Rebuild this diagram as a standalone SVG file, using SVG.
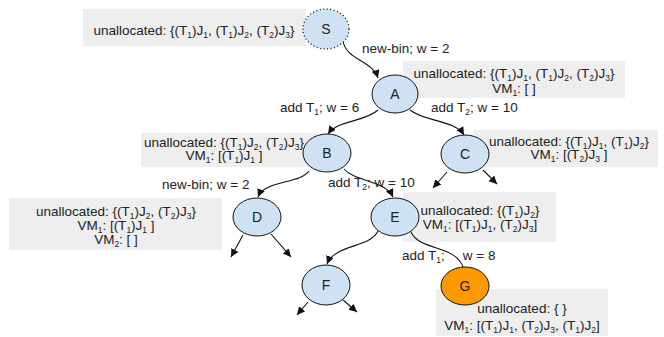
<svg xmlns="http://www.w3.org/2000/svg" width="664" height="337" viewBox="0 0 664 337">
  <style>
    text { font-family: "Liberation Sans", Arial, sans-serif; font-size: 13.5px; fill: #222; }
    .mid { text-anchor: middle; }
    .s { baseline-shift: -3px; font-size: 8.5px; }
    .box { fill: #eeeeee; stroke: none; }
    .node { fill: #cfe2f3; stroke: #111; stroke-width: 1; }
    .goal { fill: #ff9900; stroke: #111; stroke-width: 1; }
    .start { fill: #cfe2f3; stroke: #111; stroke-width: 1.3; stroke-dasharray: 1 2.5; }
    .nl { font-size: 14px; text-anchor: middle; }
    .edge { fill: none; stroke: #111; stroke-width: 1.1; }
  </style>
  <defs>
    <marker id="arr" markerUnits="userSpaceOnUse" markerWidth="10" markerHeight="10" refX="8" refY="4" orient="auto">
      <path d="M0,0 L8,4 L0,8 Z" fill="#111"/>
    </marker>
  </defs>

  <rect width="664" height="337" fill="#ffffff"/>

  <!-- state annotation boxes -->
  <g id="labels">
    <rect class="box" x="83" y="9" width="223" height="37"/>
    <text class="mid" x="194" y="35">unallocated: {(T<tspan class="s">1</tspan>)J<tspan class="s">1</tspan>, (T<tspan class="s">1</tspan>)J<tspan class="s">2</tspan>, (T<tspan class="s">2</tspan>)J<tspan class="s">3</tspan>}</text>

    <rect class="box" x="403" y="61" width="222" height="37"/>
    <text class="mid" x="514" y="78">unallocated: {(T<tspan class="s">1</tspan>)J<tspan class="s">1</tspan>, (T<tspan class="s">1</tspan>)J<tspan class="s">2</tspan>, (T<tspan class="s">2</tspan>)J<tspan class="s">3</tspan>}</text>
    <text class="mid" x="514" y="93">VM<tspan class="s">1</tspan>: [ ]</text>

    <rect class="box" x="141" y="133" width="176" height="34"/>
    <text class="mid" x="224" y="147">unallocated: {(T<tspan class="s">1</tspan>)J<tspan class="s">2</tspan>, (T<tspan class="s">2</tspan>)J<tspan class="s">3</tspan>}</text>
    <text class="mid" x="224" y="160">VM<tspan class="s">1</tspan>: [(T<tspan class="s">1</tspan>)J<tspan class="s">1</tspan> ]</text>

    <rect class="box" x="474" y="130" width="184" height="37"/>
    <text class="mid" x="569" y="146">unallocated: {(T<tspan class="s">1</tspan>)J<tspan class="s">1</tspan>, (T<tspan class="s">1</tspan>)J<tspan class="s">2</tspan>}</text>
    <text class="mid" x="569" y="159">VM<tspan class="s">1</tspan>: [(T<tspan class="s">2</tspan>)J<tspan class="s">3</tspan> ]</text>

    <rect class="box" x="9" y="198" width="213" height="52"/>
    <text class="mid" x="116" y="216">unallocated: {(T<tspan class="s">1</tspan>)J<tspan class="s">2</tspan>, (T<tspan class="s">2</tspan>)J<tspan class="s">3</tspan>}</text>
    <text class="mid" x="116" y="230">VM<tspan class="s">1</tspan>: [(T<tspan class="s">1</tspan>)J<tspan class="s">1</tspan> ]</text>
    <text class="mid" x="116" y="244">VM<tspan class="s">2</tspan>: [ ]</text>

    <rect class="box" x="403" y="192" width="153" height="50"/>
    <text class="mid" x="480" y="215">unallocated: {(T<tspan class="s">1</tspan>)J<tspan class="s">2</tspan>}</text>
    <text class="mid" x="480" y="229">VM<tspan class="s">1</tspan>: [(T<tspan class="s">1</tspan>)J<tspan class="s">1</tspan>, (T<tspan class="s">2</tspan>)J<tspan class="s">3</tspan>]</text>

    <rect class="box" x="436" y="289" width="172" height="47"/>
    <text class="mid" x="522" y="313">unallocated: { }</text>
    <text class="mid" x="522" y="330">VM<tspan class="s">1</tspan>: [(T<tspan class="s">1</tspan>)J<tspan class="s">1</tspan>, (T<tspan class="s">2</tspan>)J<tspan class="s">3</tspan>, (T<tspan class="s">1</tspan>)J<tspan class="s">2</tspan>]</text>
  </g>

  <!-- transitions -->
  <g id="connectors">
    <path class="edge" d="M343,41 C346,60 372,60 378,78" marker-end="url(#arr)"/>
    <path class="edge" d="M378,110 C365,122 338,120 328,134" marker-end="url(#arr)"/>
    <path class="edge" d="M410,110 C425,122 455,120 464,135" marker-end="url(#arr)"/>
    <path class="edge" d="M309,171 C300,184 265,180 258,197" marker-end="url(#arr)"/>
    <path class="edge" d="M344,169 C355,182 385,180 393,197" marker-end="url(#arr)"/>
    <path class="edge" d="M378,231 C370,248 335,244 327,264" marker-end="url(#arr)"/>
    <path class="edge" d="M411,232 C420,252 458,244 464,270"/>
    <path class="edge" d="M447,172 L433,188" marker-end="url(#arr)"/>
    <path class="edge" d="M483,170 L497,184" marker-end="url(#arr)"/>
    <path class="edge" d="M243,235 L231,257" marker-end="url(#arr)"/>
    <path class="edge" d="M271,234 L291,257" marker-end="url(#arr)"/>
    <path class="edge" d="M308,302 L297,315" marker-end="url(#arr)"/>
    <path class="edge" d="M343,300 L357,312" marker-end="url(#arr)"/>

    <text x="362" y="53">new-bin; w = 2</text>
    <text x="280" y="112">add T<tspan class="s">1</tspan>; w = 6</text>
    <text x="431" y="112">add T<tspan class="s">2</tspan>; w = 10</text>
    <text x="162" y="189">new-bin; w = 2</text>
    <text x="328" y="187">add T<tspan class="s">2</tspan>; w = 10</text>
    <text x="402" y="260">add T<tspan class="s">1</tspan>;<tspan dx="18">w = 8</tspan></text>
  </g>

  <!-- states -->
  <g id="node-S">
    <ellipse class="start" cx="326" cy="29" rx="23" ry="20"/>
    <text class="nl" x="326" y="34">S</text>
  </g>
  <g id="node-A">
    <ellipse class="node" cx="395" cy="94" rx="23" ry="19"/>
    <text class="nl" x="395" y="99">A</text>
  </g>
  <g id="node-B">
    <ellipse class="node" cx="327" cy="153" rx="24" ry="19"/>
    <text class="nl" x="327" y="158">B</text>
  </g>
  <g id="node-C">
    <ellipse class="node" cx="465" cy="154" rx="24" ry="19"/>
    <text class="nl" x="465" y="159">C</text>
  </g>
  <g id="node-D">
    <ellipse class="node" cx="257" cy="217" rx="24" ry="19"/>
    <text class="nl" x="257" y="222">D</text>
  </g>
  <g id="node-E">
    <ellipse class="node" cx="395" cy="217" rx="24" ry="19"/>
    <text class="nl" x="395" y="222">E</text>
  </g>
  <g id="node-F">
    <ellipse class="node" cx="326" cy="285" rx="24" ry="20"/>
    <text class="nl" x="326" y="290">F</text>
  </g>
  <g id="node-G">
    <ellipse class="goal" cx="465" cy="286" rx="24" ry="19"/>
    <text class="nl" x="465" y="291">G</text>
  </g>
</svg>
